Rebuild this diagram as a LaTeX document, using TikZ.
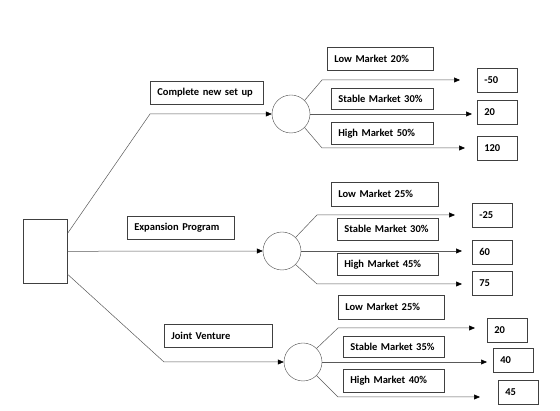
\documentclass[tikz,border=0pt]{standalone}
\usepackage{fontspec}
\setmainfont{Carlito}
\usetikzlibrary{arrows.meta}

\begin{document}
\begin{tikzpicture}[
    x=1pt, y=-1pt,
    font=\fontsize{10.5}{12}\selectfont\bfseries,
    lbl/.style={draw=black!75, line width=0.6pt, anchor=north west, align=left, inner xsep=7pt, inner ysep=0pt, text width=#1, minimum height=23pt},
    val/.style={draw=black!75, line width=0.6pt, anchor=north west, align=left, inner xsep=7pt, inner ysep=0pt, text width=26pt, minimum height=24pt},
    chance/.style={draw=black!70, circle, minimum size=38pt, inner sep=0pt},
    link/.style={draw=black!65, line width=0.5pt},
    flow/.style={link, -{Triangle[length=6pt,width=5pt,color=black]}}
  ]
  \useasboundingbox (0,0) rectangle (560,411);

  % Decision node
  \node[draw=black!75, line width=0.6pt, anchor=north west, minimum width=44pt, minimum height=64pt, inner sep=0pt] (dec) at (23,219) {};

  % Chance nodes
  \node[chance] (c1) at (291,114) {};
  \node[chance] (c2) at (282,251) {};
  \node[chance] (c3) at (303,362) {};

  % Alternatives
  \node[lbl=99pt] (alt1) at (150,81) {Complete new set up};
  \node[lbl=93pt] (alt2) at (127,216) {Expansion Program};
  \node[lbl=94pt] (alt3) at (164,324) {Joint Venture};

  \coordinate (k1) at (150,114);
  \coordinate (k3) at (164,362);
  \draw[flow] ([yshift=18pt]dec.east) -- (k1) -- (c1.west);
  \draw[flow] (dec.east) -- (c2.west);
  \draw[flow] ([yshift=-23pt]dec.east) -- (k3) -- (c3.west);

  % Outcomes of the new set up
  \node[lbl=92pt] (p11) at (327,47) {Low Market 20\%};
  \node[lbl=88pt, minimum height=21pt] (p12) at (331,88) {Stable Market 30\%};
  \node[lbl=88pt, minimum height=22pt] (p13) at (331,122) {High Market 50\%};
  \node[val] (v11) at (477,68) {-50};
  \node[val] (v12) at (477,100) {20};
  \node[val] (v13) at (477,136) {120};
  \coordinate (e11) at (460,80);
  \coordinate (e12) at (472,114);
  \coordinate (e13) at (465,148);
  \draw[flow] (c1.north east) -- (322,80) -- (e11);
  \draw[flow] (c1.east) -- (e12);
  \draw[flow] (c1.south east) -- (322,148) -- (e13);

  % Outcomes of the expansion
  \node[lbl=93pt, minimum height=24pt] (p21) at (331,182) {Low Market 25\%};
  \node[lbl=87pt, minimum height=22pt] (p22) at (337,218) {Stable Market 30\%};
  \node[lbl=87pt, minimum height=22pt] (p23) at (337,253) {High Market 45\%};
  \node[val] (v21) at (472,203) {-25};
  \node[val] (v22) at (472,240) {60};
  \node[val] (v23) at (472,271) {75};
  \coordinate (e21) at (455,215);
  \coordinate (e22) at (462,251);
  \coordinate (e23) at (462,284);
  \draw[flow] (c2.north east) -- (317,215) -- (e21);
  \draw[flow] (c2.east) -- (e22);
  \draw[flow] (c2.south east) -- (317,284) -- (e23);

  % Outcomes of the joint venture
  \node[lbl=92pt, minimum height=24pt] (p31) at (338,295) {Low Market 25\%};
  \node[lbl=87pt, minimum height=21pt] (p32) at (343,336) {Stable Market 35\%};
  \node[lbl=87pt, minimum height=23pt] (p33) at (343,369) {High Market 40\%};
  \node[val] (v31) at (487,318) {20};
  \node[val] (v32) at (493,348) {40};
  \node[val] (v33) at (498,380) {45};
  \coordinate (e31) at (475,328);
  \coordinate (e32) at (487,362);
  \coordinate (e33) at (480,397);
  \draw[flow] (c3.north east) -- (338,328) -- (e31);
  \draw[flow] (c3.east) -- (e32);
  \draw[flow] (c3.south east) -- (338,397) -- (e33);

\end{tikzpicture}
\end{document}
